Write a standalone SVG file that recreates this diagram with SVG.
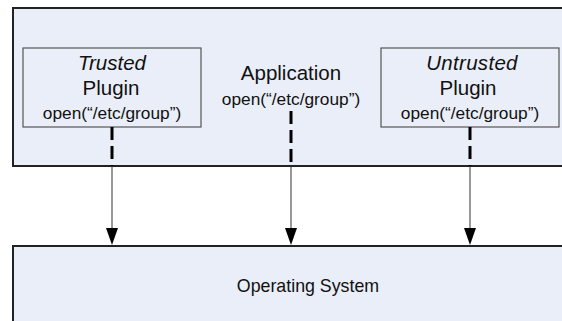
<svg xmlns="http://www.w3.org/2000/svg" width="562" height="321" viewBox="0 0 562 321">
<defs>
<style>
.big{fill:#EAEEF8;stroke:#222;stroke-width:2}
.plug{fill:#EAEEF8;stroke:#555;stroke-width:1.2}
.t{font-family:"Liberation Sans",Arial,sans-serif;fill:#111;text-anchor:middle}
.l{font-size:20.5px}
.s{font-size:17.3px}
.dash{stroke:#000;stroke-width:3;stroke-dasharray:13 6;fill:none}
.conn{stroke:#333;stroke-width:1;fill:none}
.head{fill:#000}
</style>
</defs>
<rect width="562" height="321" fill="#fff"/>
<g id="application">
<rect class="big" x="13" y="8" width="560" height="158"/>
<text class="t l" x="291" y="80">Application</text>
<text class="t s" x="291" y="105">open(“/etc/group”)</text>
</g>
<g id="trusted-plugin">
<rect class="plug" x="23" y="48" width="178" height="79"/>
<text class="t l" x="112" y="70" font-style="italic">Trusted</text>
<text class="t l" x="111" y="95">Plugin</text>
<text class="t s" x="112" y="119">open(“/etc/group”)</text>
</g>
<g id="untrusted-plugin">
<rect class="plug" x="381" y="48" width="178" height="79"/>
<text class="t l" x="472" y="70" font-style="italic" letter-spacing="0.3">Untrusted</text>
<text class="t l" x="468" y="95">Plugin</text>
<text class="t s" x="470" y="119">open(“/etc/group”)</text>
</g>
<g id="operating-system">
<rect class="big" x="13" y="246" width="560" height="90"/>
<text class="t" x="308" y="292" font-size="17.8px">Operating System</text>
</g>
<g id="connectors">
<line class="dash" x1="112" y1="127" x2="112" y2="166"/>
<line class="dash" x1="291" y1="111" x2="291" y2="166"/>
<line class="dash" x1="470" y1="127" x2="470" y2="166"/>
<line class="conn" x1="112" y1="166" x2="112" y2="230"/>
<line class="conn" x1="291" y1="166" x2="291" y2="230"/>
<line class="conn" x1="470" y1="166" x2="470" y2="230"/>
<path class="head" d="M106,228 L118,228 L112,245 Z"/>
<path class="head" d="M285,228 L297,228 L291,245 Z"/>
<path class="head" d="M464,228 L476,228 L470,245 Z"/>
</g>
</svg>
